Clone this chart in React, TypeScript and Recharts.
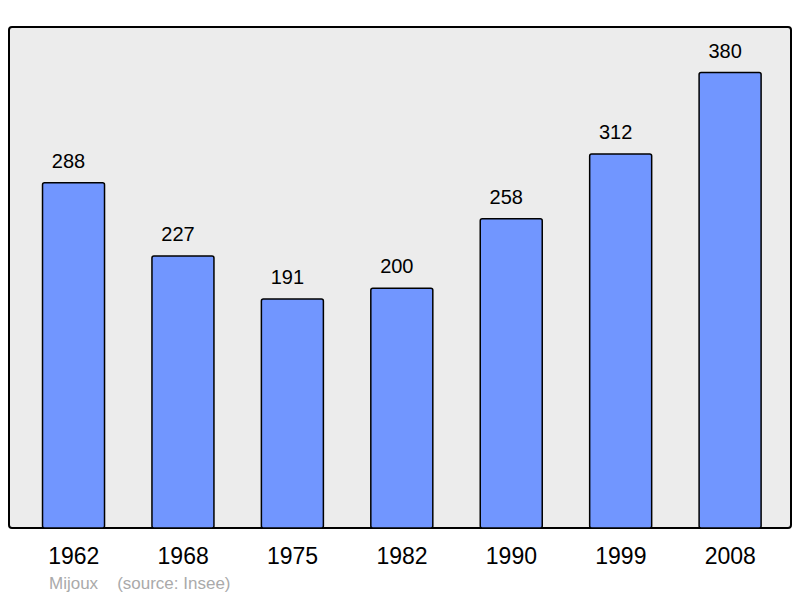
import { BarChart, Bar, XAxis, YAxis, CartesianGrid, ReferenceArea, LabelList } from 'recharts';

const years = ['1962', '1968', '1975', '1982', '1990', '1999', '2008'];
const population = [288, 227, 191, 200, 258, 312, 380];

const townName = 'Mijoux';
const sourceNote = '(source: Insee)';

const data = years.map((year, i) => ({ year, population: population[i] }));

const font = '"Liberation Sans", Arial, sans-serif';

export default function App() {
  return (
    <div style={{ position: 'absolute', left: 0, top: 0, width: 800, height: 598, background: '#fff', fontFamily: font }}>
      <BarChart
        width={800}
        height={598}
        data={data}
        margin={{ top: 27, right: 9, bottom: 40, left: 9 }}
        barCategoryGap="21.5%"
      >
        <CartesianGrid horizontal={false} vertical={false} fill="#ececec" />
        <XAxis
          dataKey="year"
          height={30}
          axisLine={false}
          tickLine={false}
          tickMargin={14}
          padding={{ left: 10, right: 6 }}
          tick={{ fill: '#000', fontSize: 23, fontFamily: font }}
        />
        {/* hidden unpadded axis spanning the whole plot area, used for the frame */}
        <XAxis xAxisId="frame" dataKey="year" hide />
        <YAxis hide domain={[0, 418]} />
        <ReferenceArea
          xAxisId="frame"
          x1={years[0]}
          x2={years[years.length - 1]}
          y1={0}
          y2={418}
          fill="none"
          stroke="#000"
          strokeWidth={2}
          radius={3}
          ifOverflow="visible"
        />
        <Bar
          dataKey="population"
          fill="#7196ff"
          stroke="#000"
          strokeWidth={1.5}
          radius={2}
          isAnimationActive={false}
        >
          <LabelList dataKey="population" position="top" offset={15} dx={-5} fill="#000" fontSize={20} fontFamily={font} />
        </Bar>
      </BarChart>
      <div style={{ position: 'absolute', left: 49, top: 574, fontSize: 17, color: '#aaa', whiteSpace: 'pre' }}>
        <span>{townName}</span>
        <span style={{ marginLeft: 19 }}>{sourceNote}</span>
      </div>
    </div>
  );
}
